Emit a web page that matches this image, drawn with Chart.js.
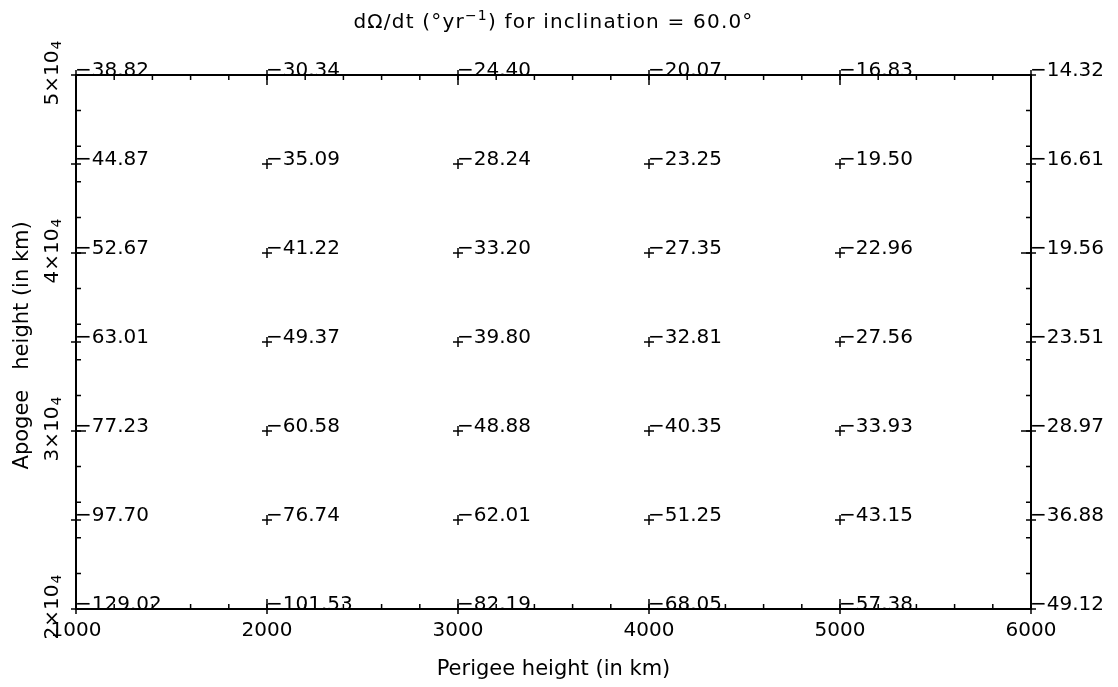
<!DOCTYPE html>
<html>
<head>
<meta charset="utf-8">
<title>dOmega/dt for inclination 60</title>
<script src="https://cdn.jsdelivr.net/npm/chart.js@4.4.1/dist/chart.umd.min.js"></script>
<style>
  html, body { margin: 0; padding: 0; background: #fff; }
  #nodal-chart { display: block; }
</style>
</head>
<body>
<canvas id="nodal-chart" width="1118" height="687"></canvas>
<script>
// perigee heights (x) and apogee heights (y), in km
const perigeeKm = [1000, 2000, 3000, 4000, 5000, 6000];
const apogeeKm = [20000, 25000, 30000, 35000, 40000, 45000, 50000];

// dOmega/dt in deg/yr, one row per apogee height
const rate20000 = [-129.02, -101.53, -82.19, -68.05, -57.38, -49.12];
const rate25000 = [-97.70, -76.74, -62.01, -51.25, -43.15, -36.88];
const rate30000 = [-77.23, -60.58, -48.88, -40.35, -33.93, -28.97];
const rate35000 = [-63.01, -49.37, -39.80, -32.81, -27.56, -23.51];
const rate40000 = [-52.67, -41.22, -33.20, -27.35, -22.96, -19.56];
const rate45000 = [-44.87, -35.09, -28.24, -23.25, -19.50, -16.61];
const rate50000 = [-38.82, -30.34, -24.40, -20.07, -16.83, -14.32];
const rateRows = [rate20000, rate25000, rate30000, rate35000, rate40000, rate45000, rate50000];

// y tick labels: mantissa x 10^exponent
const yTickValues = [20000, 30000, 40000, 50000];
const yTickMantissa = ['2\u00d710', '3\u00d710', '4\u00d710', '5\u00d710'];
const yTickExponent = '4';

// title pieces: normal text, superscript, normal text
const titleParts = [
    { text: 'd\u03a9/dt (\u00b0yr', sup: false },
    { text: '\u22121', sup: true },
    { text: ') for inclination = 60.0\u00b0', sup: false }
];

const FONT = "'DejaVu Sans', sans-serif";
Chart.defaults.font.family = "'DejaVu Sans', sans-serif";
Chart.defaults.color = '#000';

function fmt(v) {
    return (v < 0 ? '\u2212' : '') + Math.abs(v).toFixed(2);
}

const datasets = apogeeKm.map((apo, i) => ({
    label: 'apogee ' + apo,
    data: perigeeKm.map((per, j) => ({ x: per, y: apo, v: rateRows[i][j] })),
    pointStyle: 'cross',
    pointRadius: 5,
    pointHoverRadius: 5,
    borderColor: '#000',
    backgroundColor: '#000',
    borderWidth: 1.5,
    showLine: false,
    clip: false
}));

// frame, inward ticks, title, rotated y labels and value labels
const framePlugin = {
    id: 'frame',
    beforeDatasetsDraw(chart) {
        const { ctx, chartArea: a, scales: { x, y } } = chart;
        ctx.save();
        ctx.strokeStyle = '#000';
        ctx.lineWidth = 2;
        ctx.strokeRect(a.left, a.top, a.right - a.left, a.bottom - a.top);
        ctx.lineWidth = 1.5;
        ctx.beginPath();
        for (let v = 1000; v <= 6000; v += 200) {
            const px = x.getPixelForValue(v);
            const len = v % 1000 === 0 ? 10 : 5;
            ctx.moveTo(px, a.bottom); ctx.lineTo(px, a.bottom - len);
            ctx.moveTo(px, a.top); ctx.lineTo(px, a.top + len);
        }
        for (let v = 20000; v <= 50000; v += 2000) {
            const py = y.getPixelForValue(v);
            const len = v % 10000 === 0 ? 10 : 5;
            ctx.moveTo(a.left, py); ctx.lineTo(a.left + len, py);
            ctx.moveTo(a.right, py); ctx.lineTo(a.right - len, py);
        }
        ctx.stroke();

        ctx.fillStyle = '#000';
        ctx.textBaseline = 'alphabetic';
        ctx.textAlign = 'left';

        // title, centred over the plot
        ctx.letterSpacing = '1.2px';
        const normFont = '20px ' + FONT, supFont = '14px ' + FONT;
        let total = 0;
        titleParts.forEach(p => {
            ctx.font = p.sup ? supFont : normFont;
            p.w = ctx.measureText(p.text).width;
            total += p.w;
        });
        let tx = (a.left + a.right) / 2 - total / 2;
        titleParts.forEach(p => {
            ctx.font = p.sup ? supFont : normFont;
            ctx.fillText(p.text, tx, p.sup ? 20 : 28);
            tx += p.w;
        });
        ctx.letterSpacing = '0px';

        // rotated y tick labels
        yTickValues.forEach((v, i) => {
            const py = y.getPixelForValue(v);
            ctx.font = '20px ' + FONT;
            const wm = ctx.measureText(yTickMantissa[i]).width;
            ctx.font = '14px ' + FONT;
            const we = ctx.measureText(yTickExponent).width;
            ctx.save();
            ctx.translate(a.left - 18, py - 2);
            ctx.rotate(-Math.PI / 2);
            const start = -(wm + we + 1) / 2;
            ctx.font = '20px ' + FONT;
            ctx.fillText(yTickMantissa[i], start, 0);
            ctx.font = '14px ' + FONT;
            ctx.fillText(yTickExponent, start + wm + 1, 3);
            ctx.restore();
        });
        ctx.restore();
    },
    afterDatasetsDraw(chart) {
        const { ctx, scales: { x, y } } = chart;
        ctx.save();
        ctx.font = '20px ' + FONT;
        ctx.fillStyle = '#000';
        ctx.textAlign = 'left';
        ctx.textBaseline = 'alphabetic';
        apogeeKm.forEach((apo, i) => {
            perigeeKm.forEach((per, j) => {
                ctx.fillText(fmt(rateRows[i][j]), x.getPixelForValue(per) - 1, y.getPixelForValue(apo) + 1);
            });
        });
        ctx.restore();
    }
};

const ctx = document.getElementById('nodal-chart').getContext('2d');
new Chart(ctx, {
    type: 'scatter',
    data: { datasets: datasets },
    options: {
        responsive: false,
        animation: false,
        devicePixelRatio: 1,
        layout: { padding: { left: 0, right: 87, top: 75, bottom: 0 } },
        plugins: {
            legend: { display: false },
            tooltip: { enabled: false },
            title: { display: false }
        },
        scales: {
            x: {
                type: 'linear',
                position: 'bottom',
                min: 1000,
                max: 6000,
                afterFit: s => { s.height = 78; },
                grid: { display: false, drawTicks: false },
                border: { display: false },
                ticks: {
                    stepSize: 1000,
                    maxRotation: 0,
                    padding: 10,
                    color: '#000',
                    font: { family: FONT, size: 20 },
                    callback: v => String(v)
                },
                title: {
                    display: true,
                    text: 'Perigee height (in km)',
                    color: '#000',
                    font: { family: FONT, size: 21 },
                    padding: { top: 0, bottom: 5 }
                }
            },
            y: {
                type: 'linear',
                position: 'left',
                min: 20000,
                max: 50000,
                afterFit: s => { s.width = 76; },
                grid: { display: false, drawTicks: false },
                border: { display: false },
                ticks: { display: false },
                title: {
                    display: true,
                    text: 'Apogee   height (in km) ',
                    color: '#000',
                    font: { family: FONT, size: 21 },
                    padding: { top: 10, bottom: 0 }
                }
            }
        }
    },
    plugins: [framePlugin]
});
</script>
</body>
</html>
